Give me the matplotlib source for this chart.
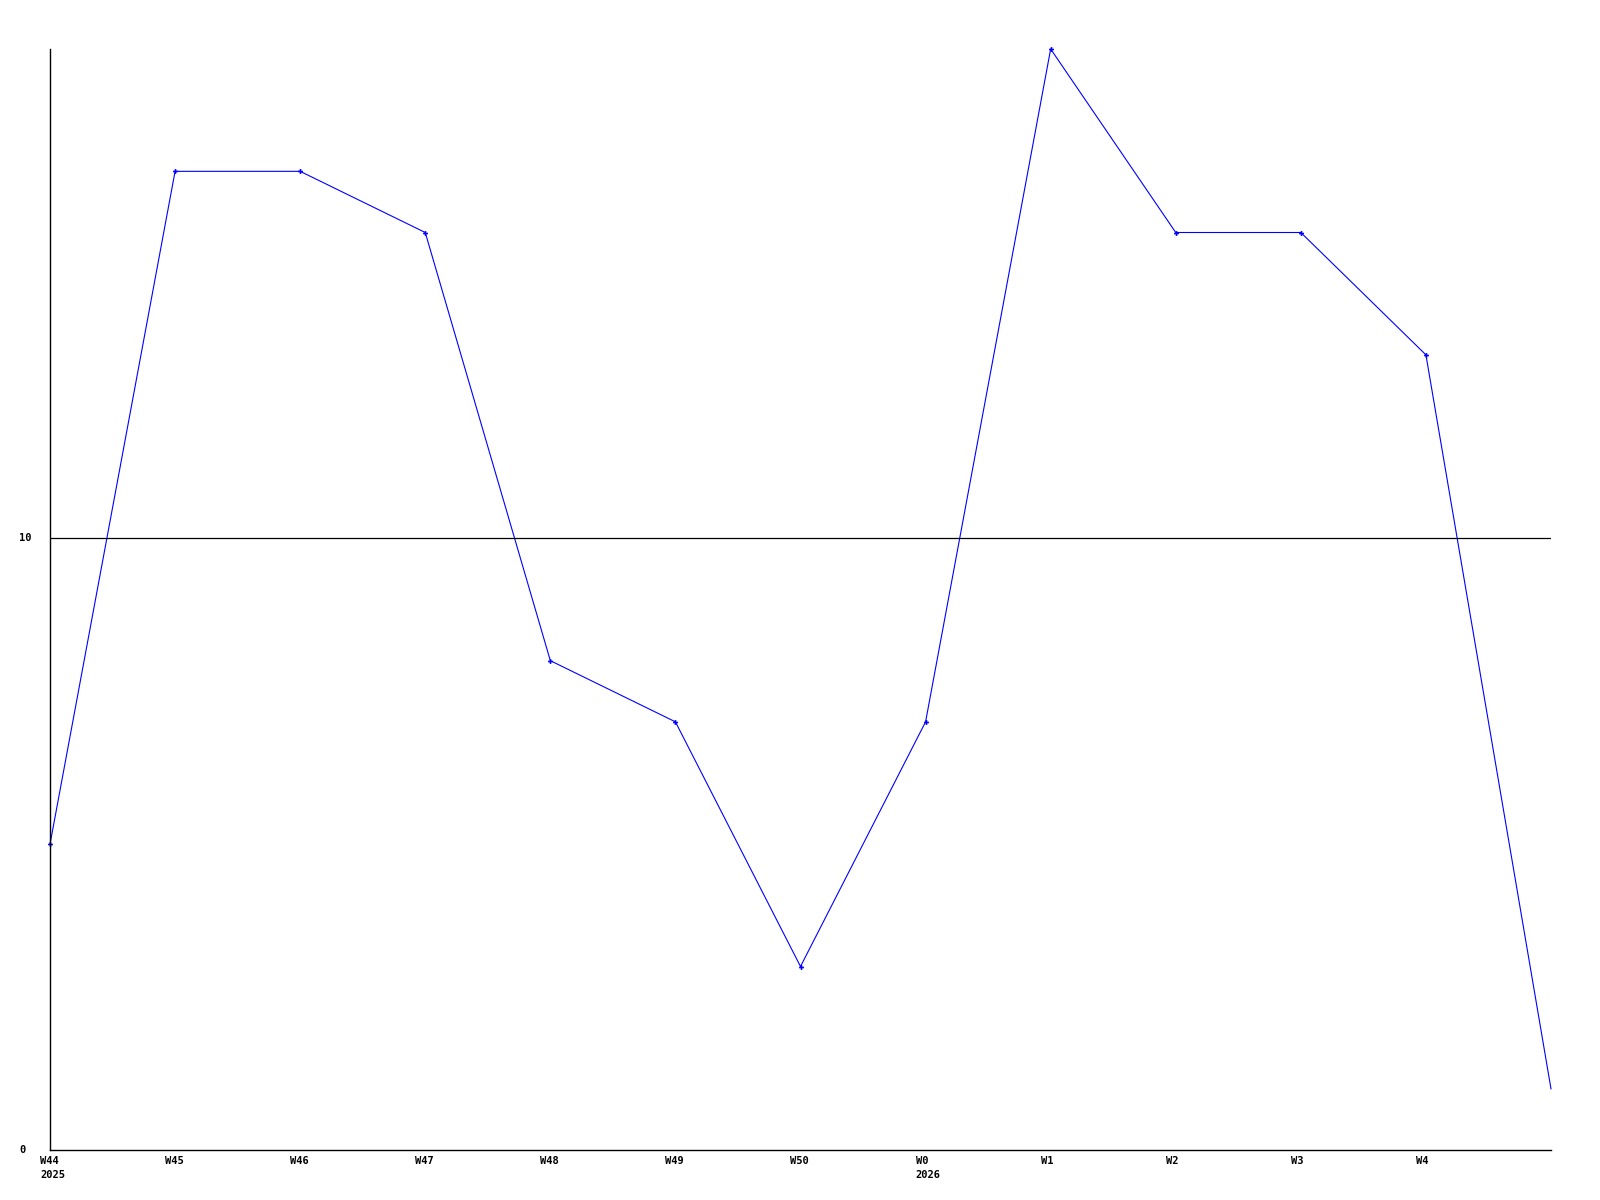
import matplotlib
matplotlib.use("Agg")
import matplotlib.pyplot as plt
import matplotlib.transforms as mtransforms

weeks = ["W44\n2025", "W45", "W46", "W47", "W48", "W49", "W50",
         "W0\n2026", "W1", "W2", "W3", "W4", ""]
values = [5, 16, 16, 15, 8, 7, 3, 7, 18, 15, 15, 13, 1]
y_ticks = [0, 10]

FONT = dict(family="DejaVu Sans Mono", weight="bold", size=7.5)

fig = plt.figure(figsize=(16, 12), dpi=100)
ax = fig.add_axes([50 / 1600, 1 - 1150 / 1200, (1551 - 50) / 1600, (1150 - 49) / 1200])

x = list(range(len(values)))
ax.plot(x, values, color="#0000ff", lw=0.8, clip_on=False)
ax.plot(x[:-1], values[:-1], ls="none", marker="P", ms=3.5, color="#0000ff",
        markeredgewidth=0, clip_on=False)

ax.set_xlim(0, len(values) - 1)
ax.set_ylim(0, 18)
for s in ("top", "right"):
    ax.spines[s].set_visible(False)
for s in ("left", "bottom"):
    ax.spines[s].set_linewidth(1)
    ax.spines[s].set_color("black")

for yt in y_ticks[1:]:
    ax.axhline(yt, color="black", lw=0.9)

ax.set_xticks(x)
ax.set_xticklabels(weeks, ha="left", va="top", linespacing=1.5, **FONT)
ax.tick_params(axis="x", length=0, pad=4)
shift = mtransforms.ScaledTranslation(-10 / 100, 0, fig.dpi_scale_trans)
for lab in ax.get_xticklabels():
    lab.set_transform(lab.get_transform() + shift)

ax.set_yticks(y_ticks)
ax.set_yticklabels([str(v) for v in y_ticks], ha="left", va="center", **FONT)
ax.tick_params(axis="y", length=0, pad=22)

fig.savefig("out.png", dpi=100, facecolor="white")
